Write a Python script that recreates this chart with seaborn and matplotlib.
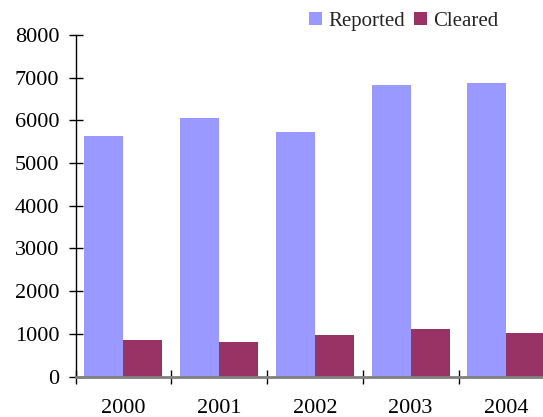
import numpy as np
import pandas as pd
import matplotlib
matplotlib.use("Agg")
import matplotlib.pyplot as plt
import seaborn as sns
from matplotlib.patches import Patch

# ── data ─────────────────────────────────────────────
years    = ["2000", "2001", "2002", "2003", "2004"]
reported = [5625, 6045, 5720, 6820, 6865]
cleared  = [860, 815, 980, 1110, 1025]
series   = ["Reported", "Cleared"]
colors   = ["#9999ff", "#993366"]

df = pd.DataFrame({
    "year"  : years * 2,
    "value" : reported + cleared,
    "series": [series[0]] * len(years) + [series[1]] * len(years),
})

# ── style ────────────────────────────────────────────
sns.set_style("ticks")
plt.rcParams["font.family"] = ["Liberation Serif", "DejaVu Serif"]
plt.rcParams["font.size"] = 16

W, H = 543, 417
fig = plt.figure(figsize=(W / 100, H / 100), dpi=100)
# axes runs a bit past the right edge, like the original
ax = fig.add_axes([75.5 / W, (H - 376.5) / H, 478.75 / W, 341.5 / H])

sns.barplot(data=df, x="year", y="value", hue="series",
            palette=colors, width=0.815, gap=0, saturation=1,
            linewidth=0, ax=ax, legend=False)

ax.set_xlim(-0.5, len(years) - 0.5)
ax.set_ylim(0, 8000)
ax.set_yticks(np.arange(0, 8001, 1000))
ax.set_xlabel(""); ax.set_ylabel("")

# boundary ticks between categories, labels at centres
ax.set_xticks(np.arange(len(years)))
ax.set_xticklabels(years)
ax.set_xticks(np.arange(-0.5, len(years)), minor=True)
ax.tick_params(axis="x", which="major", length=0, pad=16.5, labelsize=16,
               colors="black")
ax.tick_params(axis="x", which="minor", direction="inout", length=9.5,
               width=1, color="black")
ax.tick_params(axis="y", direction="inout", length=9.5, width=1,
               pad=7, labelsize=16, colors="black")

for s in ["top", "right"]:
    ax.spines[s].set_visible(False)
ax.spines["left"].set_color("black")
ax.spines["left"].set_linewidth(1.0)
ax.spines["bottom"].set_color("#808080")
ax.spines["bottom"].set_linewidth(2.0)
ax.spines["bottom"].set_zorder(5)

handles = [Patch(facecolor=c, edgecolor="none") for c in colors]
fig.legend(handles, series, loc="center left",
           bbox_to_anchor=(299 / W, 1 - 21.5 / H), ncol=2, frameon=False,
           borderpad=0, handlelength=0.6, handleheight=0.6,
           handletextpad=0.3, columnspacing=0.45, fontsize=15)

fig.savefig("out.png", dpi=100)
